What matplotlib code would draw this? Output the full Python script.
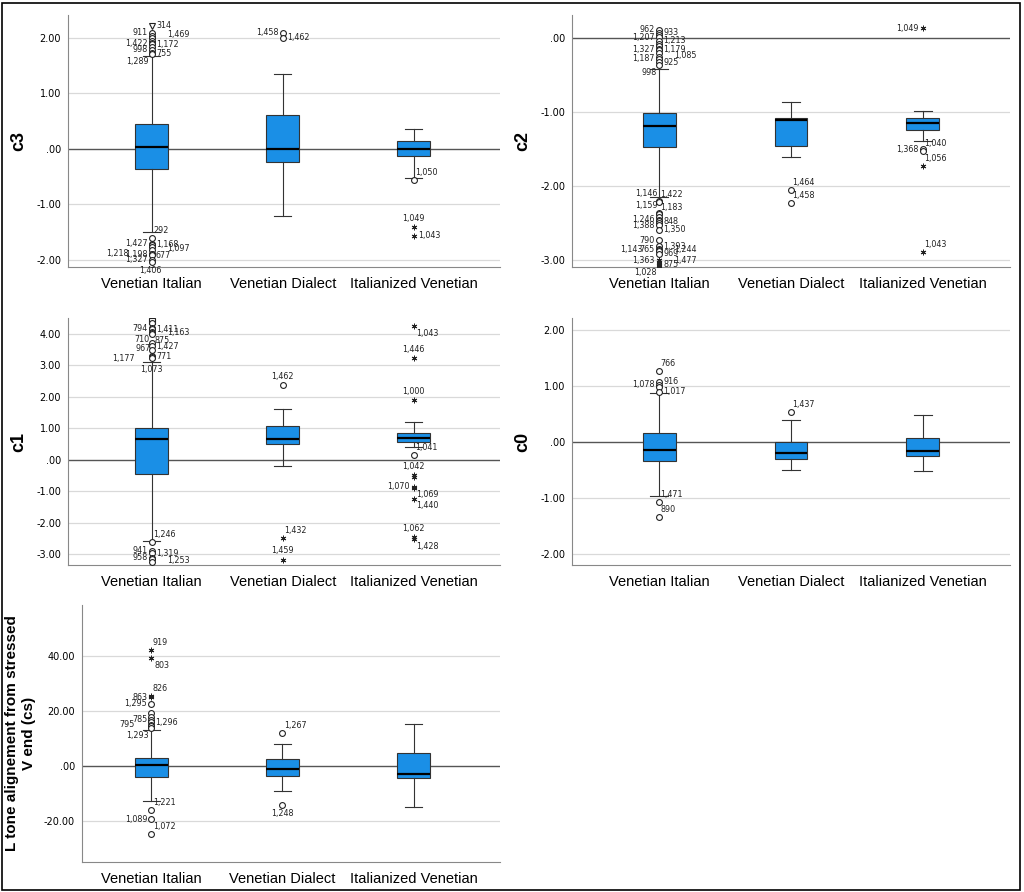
import matplotlib.pyplot as plt
from matplotlib.patches import Rectangle

plt.rcParams['font.family'] = ['Liberation Sans', 'DejaVu Sans']

groups = ["Venetian Italian", "Venetian Dialect", "Italianized Venetian"]

# box stats per panel: (q1, median, q3, whisker low, whisker high) per group
c3_stats = [(-0.36, 0.04, 0.45, -1.50, 1.68), (-0.23, -0.01, 0.61, -1.21, 1.35), (-0.13, 0.00, 0.14, -0.52, 0.36)]
c2_stats = [(-1.47, -1.19, -1.01, -2.14, -0.42), (-1.46, -1.11, -1.08, -1.61, -0.86), (-1.24, -1.15, -1.08, -1.39, -0.99)]
c1_stats = [(-0.45, 0.64, 0.99, -2.58, 3.10), (0.51, 0.64, 1.08, -0.19, 1.62), (0.57, 0.70, 0.83, 0.41, 1.18)]
c0_stats = [(-0.33, -0.14, 0.16, -0.97, 0.87), (-0.31, -0.20, 0.00, -0.50, 0.40), (-0.25, -0.16, 0.07, -0.51, 0.49)]
lt_stats = [(-4.0, 0.3, 2.9, -12.7, 13.0), (-3.6, -1.1, 2.5, -9.1, 8.0), (-4.3, -2.9, 4.7, -14.9, 15.2)]

# outliers: group index, value, case label, marker kind
c3_out_grp = [0]*22 + [1, 1] + [2, 2, 2]
c3_out_val = [2.22, 2.09, 2.04, 2.00, 1.95, 1.90, 1.88, 1.84, 1.78, 1.72, 1.70,
              -1.60, -1.71, -1.73, -1.77, -1.82, -1.89, -1.90, -1.92, -2.00, -2.04, -2.18,
              2.09, 2.00, -0.56, -1.41, -1.57]
c3_out_lab = ["314", "911", "1,469", "", "", "1,422", "1,172", "", "998", "755", "1,289",
              "292", "1,427", "1,168", "", "1,097", "1,218", "1,198", "677", "1,327", "1,406", "765",
              "1,458", "1,462", "1,050", "1,049", "1,043"]
c3_out_kind = ["v"] + ["o"]*21 + ["o", "o", "o", "*", "*"]
c3_out_side = ["r", "l", "rr", "", "", "l", "r", "", "l", "r", "bl",
               "ar", "l", "r", "", "rr", "lll", "l", "r", "l", "br0", "rr",
               "l", "r", "ar", "a", "r"]

c2_out_grp = [0]*35 + [1, 1] + [2]*5
c2_out_val = [0.11, 0.07, 0.04, 0.01, -0.04, -0.08, -0.11, -0.15, -0.16, -0.20, -0.25, -0.28, -0.33, -0.37,
              -2.20, -2.21, -2.36, -2.38, -2.42, -2.45, -2.47, -2.50, -2.53, -2.59, -2.73, -2.81,
              -2.85, -2.86, -2.87, -2.91, -3.00, -3.02, -3.04, -3.06, -3.07,
              -2.05, -2.22,
              0.13, -1.50, -1.52, -1.73, -2.89]
c2_out_lab = ["962", "933", "", "1,207", "1,213", "", "", "1,327", "1,179", "", "1,085", "1,187", "925", "998",
              "1,146", "1,422", "1,159", "1,183", "", "1,246", "848", "", "1,388", "1,350", "790", "1,393",
              "1,143", "765", "1,244", "969", "1,363", "1,477", "", "875", "1,028",
              "1,464", "1,458",
              "1,049", "1,368", "1,040", "1,056", "1,043"]
c2_out_kind = ["o"]*30 + ["*"]*5 + ["o", "o"] + ["*", "o", "o", "*", "*"]
c2_out_side = ["l", "r", "", "l", "r", "", "", "l", "r", "", "rr", "l", "r", "bl",
               "al", "ar", "al", "ar", "", "l", "r", "", "l", "r", "l", "r",
               "ll", "l", "rr", "r", "l", "rr", "", "r", "bl",
               "ar", "ar",
               "l", "l", "ar", "ar", "ar"]

c1_out_grp = [0]*19 + [1]*3 + [2]*11
c1_out_val = [4.39, 4.33, 4.17, 4.15, 4.04, 4.02, 4.00, 3.72, 3.60, 3.47, 3.30, 3.27, 3.22,
              -2.62, -2.90, -2.97, -3.12, -3.15, -3.25,
              2.38, -2.48, -3.18,
              4.24, 3.22, 1.88, 0.16, -0.48, -0.55, -0.87, -0.89, -1.24, -2.45, -2.52]
c1_out_lab = ["", "", "794", "1,411", "710", "875", "1,163", "", "1,427", "", "967", "771", "1,177",
              "1,246", "941", "1,319", "958", "", "1,253",
              "1,462", "1,432", "1,459",
              "1,043", "1,446", "1,000", "1,041", "1,042", "", "1,070", "1,069", "1,440", "1,062", "1,428"]
c1_out_kind = ["s"] + ["o"]*18 + ["o", "*", "*"] + ["*", "*", "*", "o", "*", "*", "*", "*", "*", "*", "*"]
c1_out_side = ["", "", "l", "r", "bl", "br", "rr", "", "r", "", "al", "r", "ll",
               "ar", "l", "r", "l", "", "rr",
               "a", "ar", "a",
               "br", "a", "a", "ar", "a", "", "l", "br", "br", "a", "br"]
c1_extra = [(0, 2.87, "1,073")]

c0_out_grp = [0]*7 + [1]
c0_out_val = [1.28, 1.08, 1.03, 0.99, 0.90, -1.07, -1.34, 0.54]
c0_out_lab = ["766", "916", "1,078", "", "1,017", "1,471", "890", "1,437"]
c0_out_kind = ["o"]*8
c0_out_side = ["ar", "r", "l", "", "r", "ar", "ar", "ar"]

lt_out_grp = [0]*15 + [1, 1]
lt_out_val = [42.0, 39.0, 25.4, 24.9, 22.5, 19.2, 17.8, 16.7, 15.8, 15.0, 14.3, 13.8, -16.0, -19.3, -24.6,
              12.0, -14.1]
lt_out_lab = ["919", "803", "826", "863", "1,295", "", "", "785", "1,296", "795", "", "1,293",
              "1,221", "1,089", "1,072", "1,267", "1,248"]
lt_out_kind = ["*", "*", "*", "*"] + ["o"]*13
lt_out_side = ["ar", "br", "ar", "l", "l", "", "", "l", "r", "ll", "", "bl", "ar", "l", "ar", "ar", "b"]

panels = [
    dict(name="c3", stats=c3_stats, grp=c3_out_grp, val=c3_out_val, lab=c3_out_lab, kind=c3_out_kind,
         side=c3_out_side, ticks=[-2, -1, 0, 1, 2], ylim=(-2.13, 2.41), rect=(68, 15, 500, 267), xl=-0.64),
    dict(name="c2", stats=c2_stats, grp=c2_out_grp, val=c2_out_val, lab=c2_out_lab, kind=c2_out_kind,
         side=c2_out_side, ticks=[-3, -2, -1, 0], ylim=(-3.09, 0.31), rect=(572, 15, 1010, 267), xl=-0.66),
    dict(name="c1", stats=c1_stats, grp=c1_out_grp, val=c1_out_val, lab=c1_out_lab, kind=c1_out_kind,
         side=c1_out_side, ticks=[-3, -2, -1, 0, 1, 2, 3, 4], ylim=(-3.35, 4.5), rect=(68, 318, 500, 565), xl=-0.64),
    dict(name="c0", stats=c0_stats, grp=c0_out_grp, val=c0_out_val, lab=c0_out_lab, kind=c0_out_kind,
         side=c0_out_side, ticks=[-2, -1, 0, 1, 2], ylim=(-2.2, 2.22), rect=(572, 318, 1010, 565), xl=-0.66),
    dict(name="L tone alignement from stressed\nV end (cs)", stats=lt_stats, grp=lt_out_grp, val=lt_out_val,
         lab=lt_out_lab, kind=lt_out_kind, side=lt_out_side, ticks=[-20, 0, 20, 40], ylim=(-34.8, 58.3),
         rect=(82, 605, 500, 862), xl=-0.53),
]

offsets = {
    "r": ((3, 0), "left", "center"), "rr": ((11, 1), "left", "center"),
    "l": ((-3, 0), "right", "center"), "ll": ((-12, 0), "right", "center"),
    "lll": ((-17, 0), "right", "center"),
    "a": ((0, 3), "center", "bottom"), "ar": ((1, 2), "left", "bottom"), "al": ((-1, 2), "right", "bottom"),
    "b": ((0, -3), "center", "top"), "br": ((2, -2), "left", "top"), "bl": ((-2, -2), "right", "top"),
    "br0": ((-1, -3), "center", "top"),
}

W, H = 1024, 892
fig = plt.figure(figsize=(W / 100, H / 100), dpi=100)
fig.patches.append(Rectangle((0.002, 0.002), 0.994, 0.995, transform=fig.transFigure,
                             fill=False, edgecolor="black", linewidth=1.2))

box_color = "#1a8fe6"
edge = "#333333"

for p in panels:
    x0, y0, x1, y1 = p["rect"]
    ax = fig.add_axes([x0 / W, 1 - y1 / H, (x1 - x0) / W, (y1 - y0) / H])
    bstats = []
    for (q1, med, q3, lo, hi), g in zip(p["stats"], groups):
        bstats.append(dict(med=med, q1=q1, q3=q3, whislo=lo, whishi=hi, fliers=[], label=g))
    ax.bxp(bstats, positions=[0, 1, 2], widths=0.25, capwidths=0.13, patch_artist=True,
           boxprops=dict(facecolor=box_color, edgecolor=edge, linewidth=0.8),
           medianprops=dict(color="black", linewidth=1.6),
           whiskerprops=dict(color=edge, linewidth=0.8),
           capprops=dict(color=edge, linewidth=0.8), zorder=3)

    for g, v, lab, k, s in zip(p["grp"], p["val"], p["lab"], p["kind"], p["side"]):
        if k == "*":
            ax.plot(g, v, marker=(6, 2, 0), color="#222222", markersize=4, markeredgewidth=0.7, zorder=4)
        else:
            ax.plot(g, v, marker=k, markerfacecolor="white", markeredgecolor="#222222",
                    markersize=4.2, markeredgewidth=0.8, zorder=4)
        if lab:
            (dx, dy), ha, va = offsets[s]
            ax.annotate(lab, (g, v), xytext=(dx, dy), textcoords="offset points",
                        ha=ha, va=va, fontsize=5.8, family="DejaVu Sans", color="#222222", zorder=5)
    if p["name"] == "c1":
        for g, v, lab in c1_extra:
            ax.annotate(lab, (g, v), xytext=(0, 0), textcoords="offset points",
                        ha="center", va="center", fontsize=5.8, family="DejaVu Sans", color="#222222")

    ax.axhline(0, color="#555555", linewidth=1.0, zorder=1)
    for t in p["ticks"]:
        if t != 0:
            ax.axhline(t, color="#d9d9d9", linewidth=0.9, zorder=0)
    ax.set_ylim(*p["ylim"])
    ax.set_xlim(p["xl"], 2.66)
    ax.set_yticks(p["ticks"])
    ax.set_yticklabels([".00" if t == 0 else f"{t:.2f}" for t in p["ticks"]], fontsize=7,
                       family="DejaVu Sans")
    ax.set_xticks([0, 1, 2])
    ax.set_xticklabels(groups, fontsize=10.5)
    ax.tick_params(length=0, pad=5)
    ax.tick_params(axis="x", pad=7)
    for sp in ["top", "right"]:
        ax.spines[sp].set_visible(False)
    for sp in ["left", "bottom"]:
        ax.spines[sp].set_color("#888888")
        ax.spines[sp].set_linewidth(0.8)
    ax.set_ylabel(p["name"], fontsize=13 if len(p["name"]) < 4 else 11, fontweight="bold", labelpad=6)

fig.savefig("out.png", dpi=100)
